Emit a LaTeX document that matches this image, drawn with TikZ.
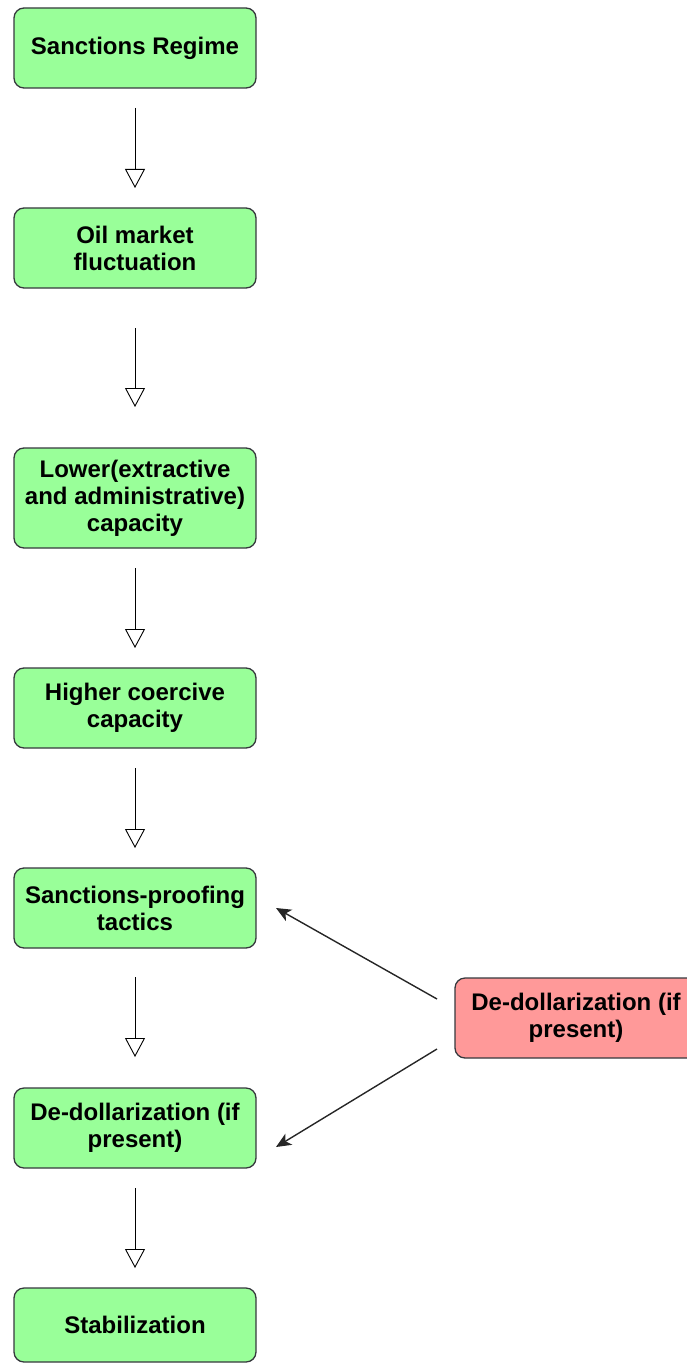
\documentclass[tikz,border=0pt]{standalone}
\usepackage{fontspec}
\setmainfont{Liberation Sans}
\usetikzlibrary{positioning,arrows.meta}
\definecolor{boxgreen}{HTML}{99FF99}
\definecolor{boxred}{HTML}{FF9999}
\definecolor{boxline}{HTML}{36393D}

\begin{document}
\begin{tikzpicture}[node distance=120pt,
    box/.style={draw=boxline, line width=1.3pt, fill=boxgreen, rounded corners=10pt,
        minimum width=242pt, minimum height=80pt, inner sep=3pt, outer sep=0pt, align=center,
        font=\bfseries\fontsize{24}{27}\selectfont},
    flow/.style={-{Triangle[open,length=19pt,width=20pt]}, line width=0.9pt,
        shorten <=20pt, shorten >=20pt},
    push/.style={-{Stealth[length=15pt,width=13pt,inset=4pt]}, line width=1.4pt, draw=black!85}]
            \useasboundingbox (0,0) rectangle (686pt,-1364pt);
            \node[box] (regime) at (135pt,-48pt) {Sanctions Regime};
            \node[box] (oil) [below=of regime] {Oil market\\fluctuation};
            \node[box, minimum height=100pt] (lower) [below=160pt of oil] {Lower(extractive\\and administrative)\\capacity};
            \node[box] (higher) [below=of lower] {Higher coercive\\capacity};
            \node[box] (proofing) [below=of higher] {Sanctions-proofing\\tactics};
            \node[box] (dedollar) [below=140pt of proofing] {De-dollarization (if\\present)};
            \node[box, minimum height=74pt] (stable) [below=of dedollar] {Stabilization};
            \node[box, fill=boxred] (dedollarext) [below right=30pt and 199pt of proofing.south east] {De-dollarization (if\\present)};
            \path[flow]
                (regime) edge (oil)
                (oil) edge [shorten <=40pt, shorten >=41pt] (lower)
                (lower) edge (higher)
                (higher) edge (proofing)
                (proofing) edge [shorten <=29pt, shorten >=31pt] (dedollar)
                (dedollar) edge (stable)
                ;
            \draw[push] ([xshift=-18pt,yshift=19pt]dedollarext.west) -- ([xshift=20pt]proofing.east);
            \draw[push] ([xshift=-18pt,yshift=-31pt]dedollarext.west) -- ([xshift=20pt,yshift=-19pt]dedollar.east);
        \end{tikzpicture}
\end{document}
